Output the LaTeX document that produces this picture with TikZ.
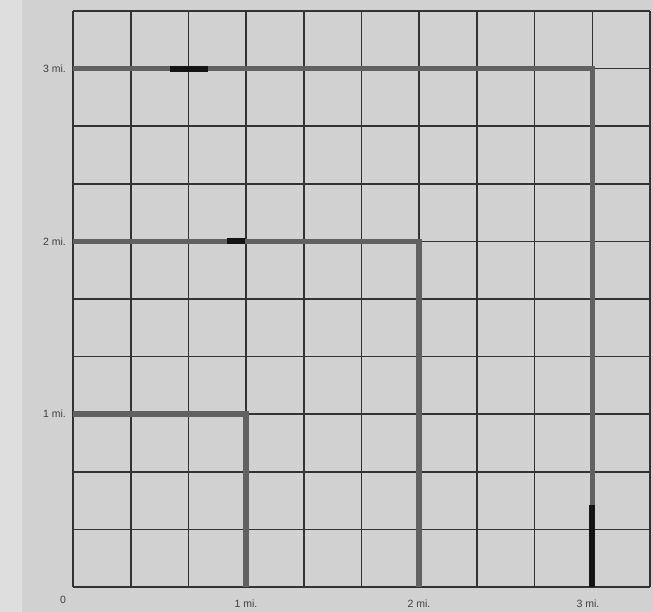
\documentclass[tikz,border=0pt]{standalone}
\usepackage{fontspec}
\setmainfont{Liberation Sans}
\begin{document}
\begin{tikzpicture}[x=1pt,y=1pt,
  gridline/.style={draw=black!80, line width=1.6pt},
  pathline/.style={draw=black!62, line width=5.5pt, line cap=butt, line join=miter},
  blackseg/.style={draw=black!92, line width=6pt},
  lbl/.style={font=\fontsize{10.5}{12}\selectfont, text=black!75, inner sep=0pt}]
\fill[black!18] (0,0) rectangle (653,612);
\fill[black!13] (0,0) rectangle (22,612);
\useasboundingbox (0,0) rectangle (653,612);
% grid
\foreach \i in {0,...,10} {
  \draw[gridline] (73+57.7*\i,25) -- (73+57.7*\i,601);
  \draw[gridline] (73,25+57.6*\i) -- (650,25+57.6*\i);
}
% corners
\coordinate (a1) at (73,197.8);
\coordinate (c1) at (246.1,197.8);
\coordinate (b1) at (246.1,25);
\coordinate (a2) at (73,370.6);
\coordinate (c2) at (419.2,370.6);
\coordinate (b2) at (419.2,25);
\coordinate (a3) at (73,543.4);
\coordinate (c3) at (592.3,543.4);
\coordinate (b3) at (592.3,25);
\draw[pathline] (a1) -- (c1) -- (b1);
\draw[pathline] (a2) -- (c2) -- (b2);
\draw[pathline] (a3) -- (c3) -- (b3);
% black retouch marks
\coordinate (m1s) at (170,543.4); \coordinate (m1e) at (208,543.4);
\coordinate (m2s) at (227,370.6); \coordinate (m2e) at (245,370.6);
\coordinate (m3s) at (592.3,107); \coordinate (m3e) at (592.3,25);
\draw[blackseg] (m1s) -- (m1e);
\draw[blackseg] (m2s) -- (m2e);
\draw[blackseg] (m3s) -- (m3e);
% labels
\node[lbl, anchor=east] (l3) at (66,543.4) {3 mi.};
\node[lbl, anchor=east] (l2) at (66,370.6) {2 mi.};
\node[lbl, anchor=east] (l1) at (66,197.8) {1 mi.};
\node[lbl] (l0) at (63,12) {0};
\node[lbl] (x1) at (246,8) {1 mi.};
\node[lbl] (x2) at (419,8) {2 mi.};
\node[lbl] (x3) at (588,8) {3 mi.};
\end{tikzpicture}
\end{document}
